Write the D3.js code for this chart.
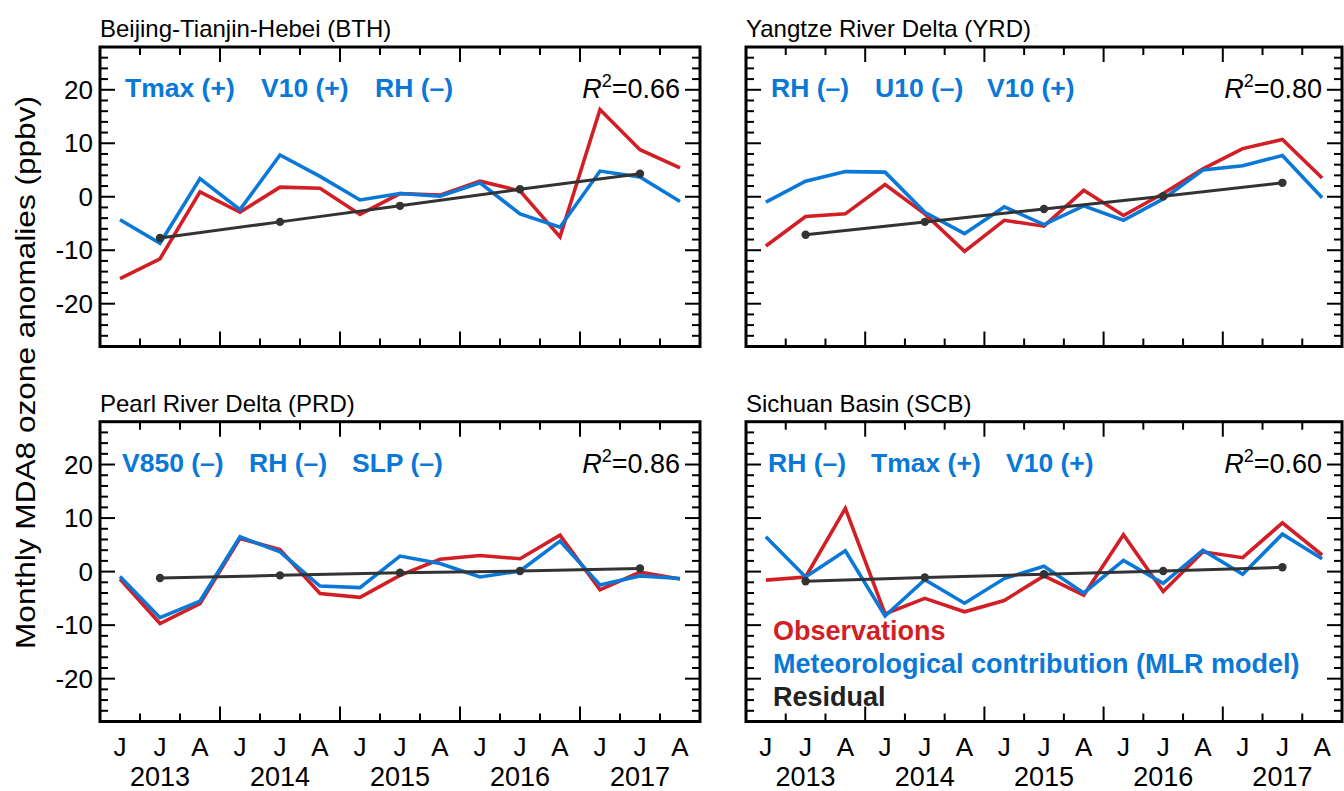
<!DOCTYPE html>
<html>
<head>
<meta charset="utf-8">
<script src="https://cdn.jsdelivr.net/npm/d3@7"></script>
<style>
  html, body { margin: 0; padding: 0; background: #fff; }
  svg { display: block; font-family: "Liberation Sans", Arial, sans-serif; }
</style>
</head>
<body>
<svg id="chart" width="1344" height="791"></svg>
<script>
// ---------- data ----------
const months = ["J","J","A","J","J","A","J","J","A","J","J","A","J","J","A"];
const years = ["2013","2014","2015","2016","2017"];
const yTicks = [-20, -10, 0, 10, 20];
const regionTitles = ["Beijing-Tianjin-Hebei (BTH)", "Yangtze River Delta (YRD)", "Pearl River Delta (PRD)", "Sichuan Basin (SCB)"];
const r2Values = ["0.66", "0.80", "0.86", "0.60"];
const predictors = [
  ["Tmax (+)", "V10 (+)", "RH (\u2013)"],
  ["RH (\u2013)", "U10 (\u2013)", "V10 (+)"],
  ["V850 (\u2013)", "RH (\u2013)", "SLP (\u2013)"],
  ["RH (\u2013)", "Tmax (+)", "V10 (+)"]
];
const legendLabels = ["Observations", "Meteorological contribution (MLR model)", "Residual"];

const bthObs = [-15.3,-11.6,0.9,-2.9,1.8,1.6,-3.3,0.6,0.3,2.9,1.1,-7.5,16.3,8.8,5.4];
const bthMet = [-4.3,-8.7,3.4,-2.4,7.8,3.8,-0.6,0.6,0.1,2.6,-3.2,-5.7,4.8,3.7,-0.9];
const bthRes = [-7.7,-4.7,-1.7,1.4,4.3];
const yrdObs = [-9.2,-3.7,-3.2,2.3,-3.2,-10.2,-4.4,-5.5,1.2,-3.5,0.6,5.2,9.0,10.7,3.5];
const yrdMet = [-1.0,2.9,4.7,4.6,-2.9,-6.9,-1.9,-5.2,-1.7,-4.4,-0.4,5.0,5.8,7.7,-0.2];
const yrdRes = [-7.1,-4.7,-2.3,0.1,2.6];
const prdObs = [-1.4,-9.7,-6.0,6.2,4.1,-4.1,-4.8,-0.7,2.3,3.0,2.4,6.8,-3.4,-0.1,-1.4];
const prdMet = [-0.9,-8.6,-5.5,6.5,3.7,-2.7,-3.0,2.9,1.5,-1.0,0.1,5.7,-2.5,-0.8,-1.3];
const prdRes = [-1.2,-0.7,-0.2,0.1,0.6];
const scbObs = [-1.6,-1.0,11.8,-7.9,-5.0,-7.5,-5.4,-0.8,-4.4,6.9,-3.7,3.7,2.6,9.1,3.1];
const scbMet = [6.5,-1.0,3.9,-8.3,-1.5,-5.9,-1.3,1.0,-4.0,2.1,-2.2,4.0,-0.5,7.0,2.4];
const scbRes = [-1.8,-1.1,-0.5,0.1,0.8];
const resIdx = [1, 4, 7, 10, 13]; // July of each year

const obsSeries = [bthObs, yrdObs, prdObs, scbObs];
const metSeries = [bthMet, yrdMet, prdMet, scbMet];
const resSeries = [bthRes, yrdRes, prdRes, scbRes];

// ---------- style ----------
const RED = "#d21f26", BLUE = "#0a78d6", DARK = "#333333";
const panels = [
  {x0: 100, x1: 700, y0: 47, y1: 346.5, tokX: [25, 161, 275]},
  {x0: 746, x1: 1342, y0: 47, y1: 346.5, tokX: [25, 129, 241]},
  {x0: 100, x1: 700, y0: 421.7, y1: 721.5, tokX: [22, 149, 252]},
  {x0: 746, x1: 1342, y0: 421.7, y1: 721.5, tokX: [22, 125, 260]}
];

const svg = d3.select("#chart");

panels.forEach((p, k) => {
  const x = d3.scaleLinear().domain([-0.5, 14.5]).range([p.x0, p.x1]);
  const y = d3.scaleLinear().domain([-28, 28]).range([p.y1, p.y0]);
  const g = svg.append("g");

  // minor / major ticks (inward, all four sides)
  const xMajor = [2.5, 5.5, 8.5, 11.5];
  const xMinor = d3.range(0.5, 14.5, 1).filter(v => !xMajor.includes(v));
  const yMinor = d3.range(-26, 27, 2).filter(v => !yTicks.includes(v));
  const tickG = g.append("g").attr("stroke", "#000").attr("stroke-width", 2);
  const addX = (vals, len) => vals.forEach(v => {
    tickG.append("line").attr("x1", x(v)).attr("x2", x(v)).attr("y1", p.y1).attr("y2", p.y1 - len);
    tickG.append("line").attr("x1", x(v)).attr("x2", x(v)).attr("y1", p.y0).attr("y2", p.y0 + len);
  });
  const addY = (vals, len) => vals.forEach(v => {
    tickG.append("line").attr("y1", y(v)).attr("y2", y(v)).attr("x1", p.x0).attr("x2", p.x0 + len);
    tickG.append("line").attr("y1", y(v)).attr("y2", y(v)).attr("x1", p.x1).attr("x2", p.x1 - len);
  });
  addX(xMinor, 8); addX(xMajor, 15);
  addY(yMinor, 8); addY(yTicks, 15);

  // y tick labels (left panels only)
  if (k % 2 === 0) {
    g.selectAll(".yl").data(yTicks).enter().append("text")
      .attr("x", p.x0 - 7).attr("y", d => y(d)).attr("dy", "0.35em")
      .attr("text-anchor", "end").attr("font-size", 26).attr("fill", "#000")
      .text(d => d);
  }
  // x tick labels (bottom panels only)
  if (k >= 2) {
    g.selectAll(".xl").data(months).enter().append("text")
      .attr("x", (d, i) => x(i)).attr("y", p.y1 + 34)
      .attr("text-anchor", "middle").attr("font-size", 26).attr("fill", "#000")
      .text(d => d);
    g.selectAll(".yr").data(years).enter().append("text")
      .attr("x", (d, i) => x(resIdx[i])).attr("y", p.y1 + 64.5)
      .attr("text-anchor", "middle").attr("font-size", 27).attr("fill", "#000")
      .text(d => d);
  }

  // title
  g.append("text").attr("x", p.x0).attr("y", p.y0 - 10)
    .attr("font-size", 24).attr("fill", "#000").text(regionTitles[k]);

  // predictors
  predictors[k].forEach((t, j) => {
    g.append("text").attr("x", p.x0 + p.tokX[j]).attr("y", p.y0 + 50)
      .attr("font-size", 26.5).attr("font-weight", "bold").attr("fill", BLUE).text(t);
  });
  // R^2
  const r = g.append("text").attr("x", p.x1 - 20).attr("y", p.y0 + 51)
    .attr("text-anchor", "end").attr("font-size", 27).attr("fill", "#000");
  r.append("tspan").attr("font-style", "italic").text("R");
  r.append("tspan").attr("font-size", 18).attr("dy", -11).text("2");
  r.append("tspan").attr("dy", 11).text("=" + r2Values[k]);

  // lines
  const line = d3.line().x((d, i) => x(i)).y(d => y(d));
  g.append("path").datum(obsSeries[k]).attr("d", line)
    .attr("fill", "none").attr("stroke", RED).attr("stroke-width", 3.6).attr("stroke-linejoin", "miter");
  g.append("path").datum(metSeries[k]).attr("d", line)
    .attr("fill", "none").attr("stroke", BLUE).attr("stroke-width", 3.6).attr("stroke-linejoin", "miter");
  const resLine = d3.line().x((d, i) => x(resIdx[i])).y(d => y(d));
  g.append("path").datum(resSeries[k]).attr("d", resLine)
    .attr("fill", "none").attr("stroke", DARK).attr("stroke-width", 3);
  g.selectAll(".dot").data(resSeries[k]).enter().append("circle")
    .attr("cx", (d, i) => x(resIdx[i])).attr("cy", d => y(d)).attr("r", 4.2).attr("fill", DARK);

  // frame
  g.append("rect").attr("x", p.x0).attr("y", p.y0)
    .attr("width", p.x1 - p.x0).attr("height", p.y1 - p.y0)
    .attr("fill", "none").attr("stroke", "#000").attr("stroke-width", 3);

  // legend in last panel
  if (k === 3) {
    const cols = [RED, BLUE, "#222"];
    legendLabels.forEach((t, j) => {
      g.append("text").attr("x", p.x0 + 27).attr("y", 640 + j * 33)
        .attr("font-size", 27).attr("font-weight", "bold").attr("fill", cols[j]).text(t);
    });
  }
});

// shared y-axis title
svg.append("text")
  .attr("transform", "translate(35,372.5) rotate(-90)")
  .attr("text-anchor", "middle").attr("font-size", 28).attr("fill", "#000")
  .attr("textLength", 553).attr("lengthAdjust", "spacingAndGlyphs")
  .text("Monthly MDA8 ozone anomalies (ppbv)");
</script>
</body>
</html>
